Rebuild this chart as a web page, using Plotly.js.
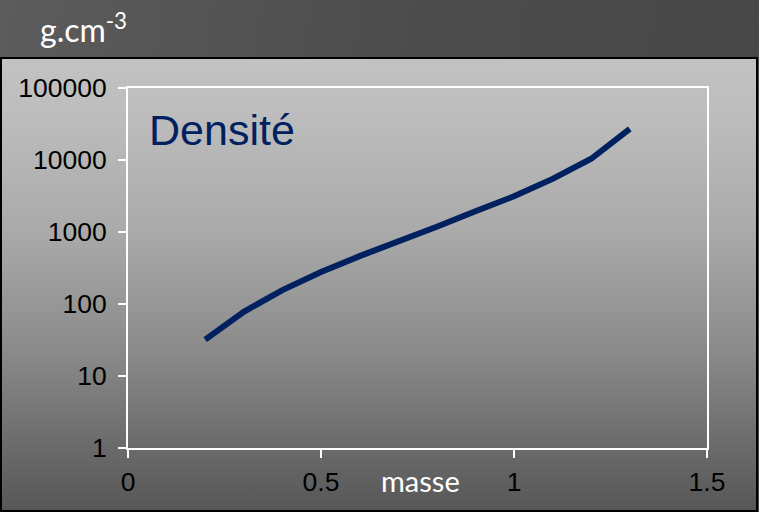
<!DOCTYPE html>
<html>
<head>
<meta charset="utf-8">
<script src="https://cdn.plot.ly/plotly-3.0.1.min.js"></script>
<style>
  html, body { margin:0; padding:0; background:#4b4b4b; }
  #wrap { position:relative; width:759px; height:512px; overflow:hidden;
          background: linear-gradient(100deg, #5c5c5c 0%, #4c4c4c 50%, #464646 100%); }
  #box { position:absolute; left:0; top:57px; width:758px; height:455px; box-sizing:border-box;
         border:2px solid #000;
         background: linear-gradient(to bottom, #c2c2c2 0%, #bdbdbd 12%, #aaaaaa 38%, #8a8a8a 65%, #6c6c6c 85%, #575757 100%); }
  #chart { position:absolute; left:0; top:0; width:759px; height:512px; }
</style>
</head>
<body>
<div id="wrap">
  <div id="box"></div>
  <div id="chart"></div>
</div>
<script>
// Data
const masse = [0.2, 0.3, 0.4, 0.5, 0.6, 0.7, 0.8, 0.9, 1.0, 1.1, 1.2, 1.3];
const densite = [32, 78, 156, 278, 462, 722, 1180, 1940, 3130, 5470, 10400, 27100];
const xTickVals = [0, 0.5, 1, 1.5];
const xTickText = ['0', '0.5', '1', '1.5'];
const yTickVals = [1, 10, 100, 1000, 10000, 100000];
const yTickText = ['1', '10', '100', '1000', '10000', '100000'];
const seriesName = 'Densité';
const unitLabel = 'g.cm<sup>-3</sup>';
const xLabel = 'masse';

const trace = {
  x: masse, y: densite, type: 'scatter', mode: 'lines', name: seriesName,
  line: { color: '#002060', width: 6, shape: 'linear' },
  hoverinfo: 'skip'
};

const axisCommon = {
  showline: true, linecolor: '#ffffff', linewidth: 2,
  ticks: 'outside', ticklen: 8, tickwidth: 2, tickcolor: '#ffffff',
  showgrid: false, zeroline: false, mirror: true,
  tickfont: { family: 'Liberation Sans, Arial, sans-serif', size: 26.5, color: '#000000' }
};

const layout = {
  width: 759, height: 512,
  margin: { l: 128, r: 52, t: 88, b: 64, pad: 0 },
  paper_bgcolor: 'rgba(0,0,0,0)', plot_bgcolor: 'rgba(0,0,0,0)',
  showlegend: false,
  xaxis: Object.assign({}, axisCommon, {
    range: [0, 1.5], tickmode: 'array', tickvals: xTickVals, ticktext: xTickText,
    ticklabelstandoff: 1
  }),
  yaxis: Object.assign({}, axisCommon, {
    type: 'log', range: [0, 5], tickmode: 'array', tickvals: yTickVals, ticktext: yTickText,
    ticklabelstandoff: 6
  }),
  annotations: [
    { text: seriesName, xref: 'paper', yref: 'paper', x: 0.033, y: 0.883,
      xanchor: 'left', yanchor: 'middle', showarrow: false,
      font: { family: 'Liberation Sans, Arial, sans-serif', size: 43, color: '#002060' } },
    { text: unitLabel, xref: 'paper', yref: 'paper', x: -0.155, y: 1.168,
      xanchor: 'left', yanchor: 'middle', showarrow: false,
      font: { family: 'Lato, sans-serif', size: 32, color: '#ffffff' } },
    { text: xLabel, xref: 'paper', yref: 'paper', x: 0.505, y: -0.09,
      xanchor: 'center', yanchor: 'middle', showarrow: false,
      font: { family: 'Lato, sans-serif', size: 29, color: '#ffffff' } }
  ]
};

Plotly.newPlot('chart', [trace], layout, { displayModeBar: false, staticPlot: true });
</script>
</body>
</html>
